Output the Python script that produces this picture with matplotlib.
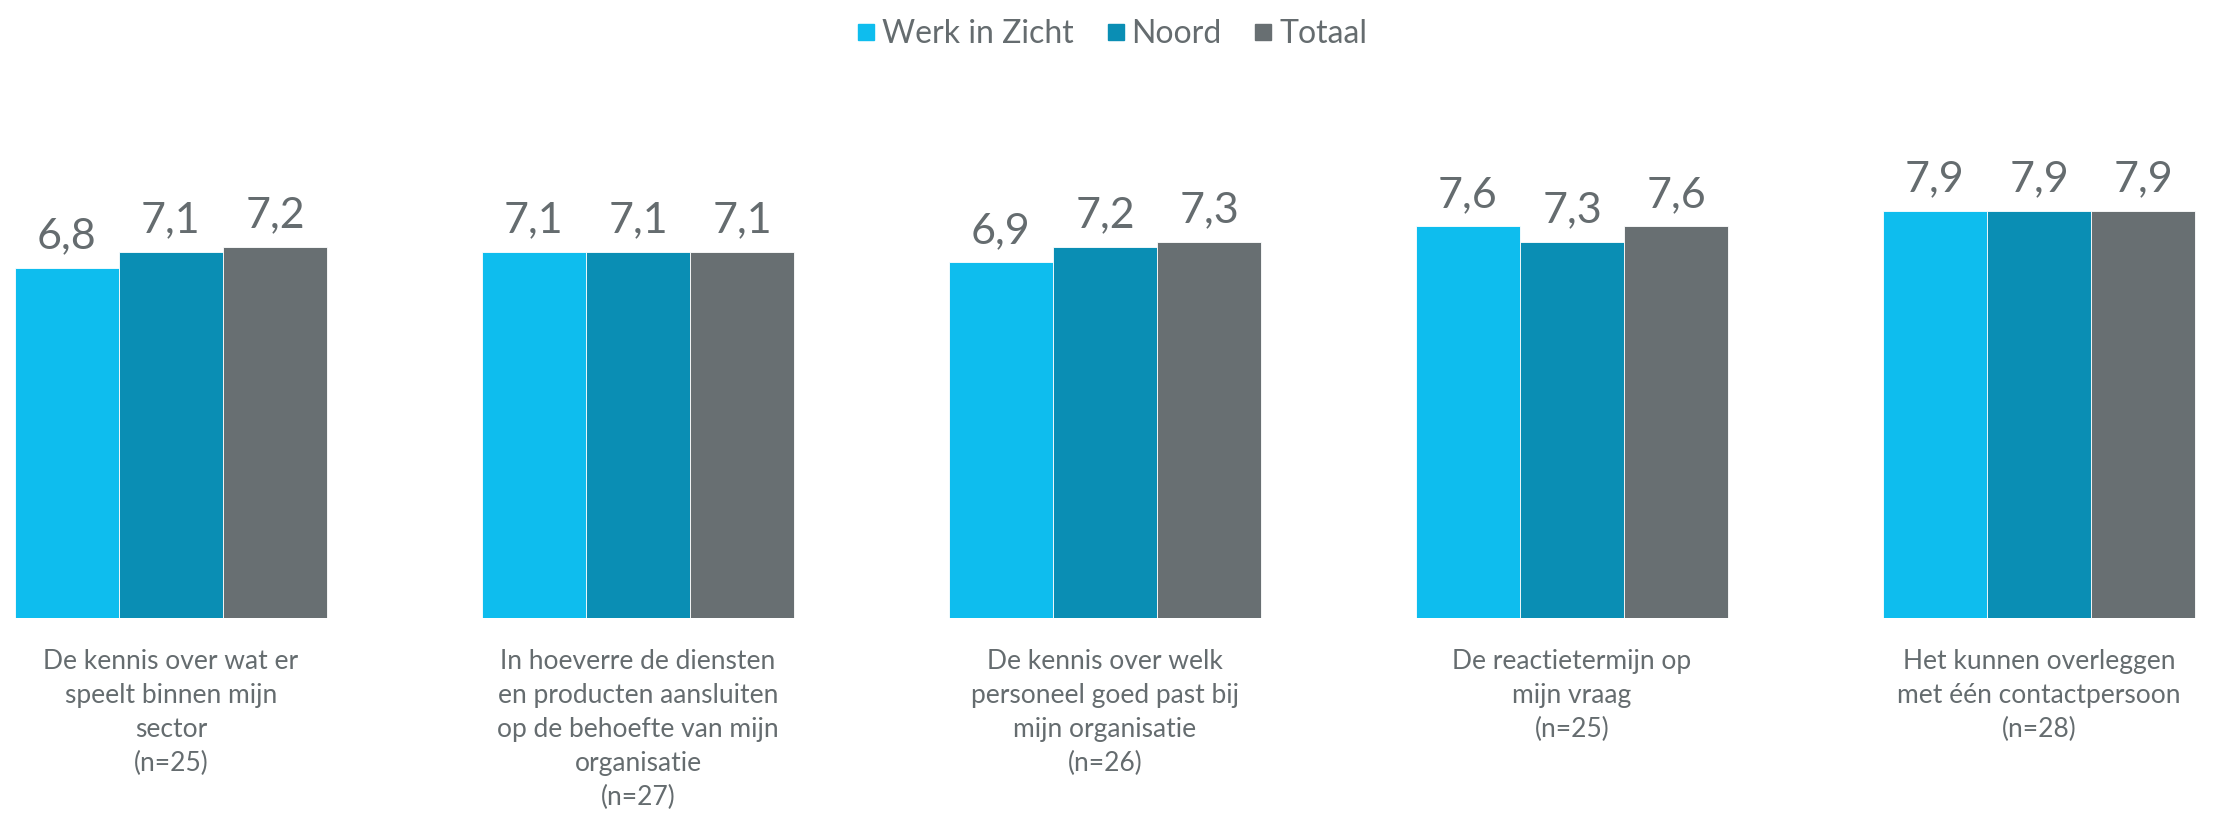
import matplotlib.pyplot as plt
from matplotlib.lines import Line2D
import numpy as np

categories = [
    "De kennis over wat er\nspeelt binnen mijn\nsector\n(n=25)",
    "In hoeverre de diensten\nen producten aansluiten\nop de behoefte van mijn\norganisatie\n(n=27)",
    "De kennis over welk\npersoneel goed past bij\nmijn organisatie\n(n=26)",
    "De reactietermijn op\nmijn vraag\n(n=25)",
    "Het kunnen overleggen\nmet één contactpersoon\n(n=28)",
]
werk_in_zicht = [6.8, 7.1, 6.9, 7.6, 7.9]
noord = [7.1, 7.1, 7.2, 7.3, 7.9]
totaal = [7.2, 7.1, 7.3, 7.6, 7.9]

series = [("Werk in Zicht", werk_in_zicht, "#0EBDEE"),
          ("Noord", noord, "#0A8EB4"),
          ("Totaal", totaal, "#686F72")]
text_color = "#656C6F"

plt.rcParams['font.family'] = ['Lato', 'DejaVu Sans']

fig = plt.figure(figsize=(22.24, 8.14), dpi=100)
ax = fig.add_axes([0, 0.2408, 1, 0.633])

x = np.arange(len(categories))
w = 0.223
for i, (name, vals, col) in enumerate(series):
    bars = ax.bar(x + (i - 1) * w, vals, w, color=col, edgecolor="white", linewidth=0.6)
    ax.bar_label(bars, labels=[f"{v:.1f}".replace(".", ",") for v in vals],
                 padding=9, fontsize=31, color=text_color)

ax.set_xlim(-0.366, 4.396)
ax.set_ylim(0, 10)
ax.set_yticks([])
ax.set_xticks(x)
ax.set_xticklabels(categories, fontsize=19, color=text_color, linespacing=1.45)
ax.tick_params(axis="x", length=0, pad=22)
for s in ax.spines.values():
    s.set_visible(False)

handles = [Line2D([], [], marker="s", linestyle="", color=c, markersize=11) for _, _, c in series]
fig.legend(handles, [n for n, _, _ in series], loc="upper center", bbox_to_anchor=(0.5, 1.012),
           ncol=3, frameon=False, fontsize=23, handlelength=0.6, handletextpad=0.2,
           columnspacing=1.0, labelcolor=text_color)

fig.savefig("out.png", dpi=100)
